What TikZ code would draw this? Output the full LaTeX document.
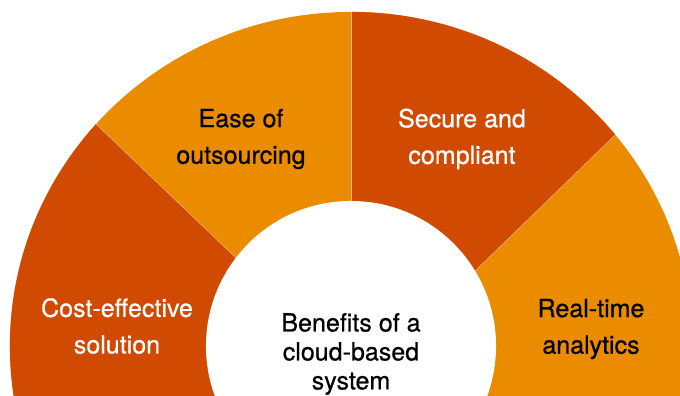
\documentclass[tikz,border=0pt]{standalone}
\usepackage{fontspec}
\setmainfont{TeX Gyre Heros}
\newfontfamily\medfont[RawFeature={embolden=0.6}]{TeX Gyre Heros}
\definecolor{pwcred}{HTML}{D04A02}
\definecolor{pwcgold}{HTML}{EB8C00}
\begin{document}
\begin{tikzpicture}[x=0.025cm,y=-0.025cm,
  seg node/.style={align=center,font=\medfont\fontsize{17.8}{26}\selectfont},
  hub node/.style={align=center,font=\medfont\fontsize{17.8}{20.6}\selectfont},
  divider/.style={white,opacity=0.6,line width=0.3pt}]
  \useasboundingbox (0,0) rectangle (680,396);
  \coordinate (c) at (351,346);
  \coordinate (li) at (236,258);
  \coordinate (lo) at (-42,-8);
  \coordinate (ri) at (474,272);
  \coordinate (ro) at (750,4);
  \begin{scope}
    \clip (0,0) rectangle (680,396);
    \clip (c) ellipse [x radius=8.525cm, y radius=8.35cm];
    \fill[pwcgold] (-20,-20) rectangle (700,420);
    \fill[pwcred] (c) -- (li) -- (lo) -- (-50,-8) -- (-50,420) -- (351,420) -- cycle;
    \fill[pwcred] (c) -- (351,-20) -- (750,-20) -- (ro) -- (ri) -- cycle;
    \draw[divider] (li) -- (lo);
    \draw[divider] (ri) -- (ro);
    \draw[divider] (c) -- (351,-20);
    \fill[white] (c) circle [radius=3.625cm];
  \end{scope}
  \node[seg node,text=white] (cost) at (117,326) {Cost-effective\\solution};
  \node[seg node] (ease) at (241,139) {Ease of\\outsourcing};
  \node[seg node,text=white] (secure) at (462,139) {Secure and\\compliant};
  \node[seg node] (realtime) at (591,329) {Real-time\\analytics};
  \node[hub node] (hub) at (351,354) {Benefits of a\\cloud-based\\system};
\end{tikzpicture}
\end{document}
